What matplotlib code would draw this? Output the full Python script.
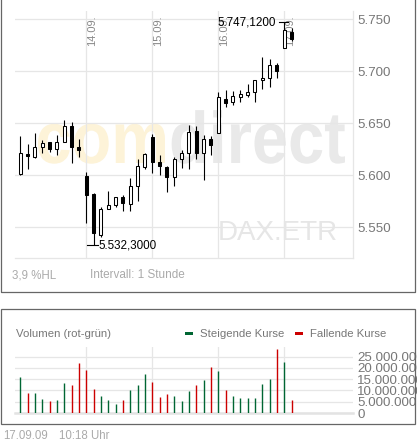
import matplotlib
matplotlib.use("Agg")
import matplotlib.pyplot as plt
from matplotlib.patches import Rectangle, PathPatch
from matplotlib.lines import Line2D
from matplotlib.textpath import TextPath, text_to_path
from matplotlib.font_manager import FontProperties
from matplotlib.transforms import Affine2D
from matplotlib.ticker import FuncFormatter, FixedLocator

plt.rcParams['font.family'] = ['Liberation Sans', 'DejaVu Sans']

# hourly candles 11.09. - 17.09.
opens = [5600.7, 5620.2, 5617.6, 5626.6, 5631.5, 5624.7, 5632.0, 5647.4, 5626.6,
         5599.0, 5581.5, 5542.3, 5567.0, 5571.2, 5579.2, 5572.1, 5589.4, 5608.0,
         5636.3, 5612.2, 5608.0, 5598.4, 5615.1, 5620.9, 5642.3, 5620.9, 5634.6,
         5640.1, 5673.1, 5669.9, 5675.3, 5676.9, 5679.5, 5691.0, 5693.0, 5705.8,
         5722.4, 5737.8]
highs = [5637.5, 5629.8, 5640.1, 5633.7, 5631.7, 5638.5, 5652.9, 5651.0, 5634.3,
         5602.9, 5582.4, 5569.5, 5584.6, 5579.0, 5581.0, 5596.8, 5615.4, 5621.4,
         5639.4, 5619.2, 5608.5, 5617.6, 5624.0, 5648.1, 5647.1, 5638.5, 5637.5,
         5680.0, 5681.7, 5681.1, 5681.7, 5687.2, 5691.5, 5713.2, 5711.3, 5707.4,
         5747.12, 5741.0]
lows = [5600.0, 5605.5, 5616.0, 5621.4, 5622.4, 5618.9, 5632.0, 5611.8, 5617.0,
        5554.0, 5532.3, 5540.7, 5567.0, 5569.0, 5565.7, 5565.7, 5575.3, 5606.0,
        5602.2, 5599.7, 5584.0, 5589.4, 5606.4, 5605.5, 5615.1, 5595.2, 5619.2,
        5640.1, 5665.4, 5667.3, 5670.5, 5675.3, 5670.5, 5682.4, 5684.9, 5693.0,
        5722.0, 5728.8]
closes = [5620.9, 5618.3, 5626.6, 5630.5, 5624.7, 5632.0, 5647.4, 5626.6, 5623.8,
          5581.0, 5544.0, 5567.3, 5571.2, 5578.6, 5573.4, 5589.4, 5608.7, 5620.2,
          5612.8, 5608.7, 5598.4, 5615.4, 5620.9, 5641.6, 5620.9, 5634.3, 5628.9,
          5675.0, 5669.2, 5676.0, 5677.9, 5679.5, 5691.3, 5693.6, 5705.8, 5700.3,
          5739.4, 5730.5]
volumes_mio = [16.1, 8.9, 8.9, 6.2, 5.3, 5.8, 13.5, 12.6, 22.1, 18.9, 10.8, 7.6, 5.8,
               3.9, 5.8, 10.3, 12.6, 17.1, 13.9, 7.1, 8.5, 7.6, 5.3, 9.8, 12.6, 14.8,
               20.3, 18.5, 10.3, 7.6, 6.7, 6.7, 6.7, 13.0, 15.3, 28.5, 22.6, 5.8]
day_labels = ["14.09.", "15.09.", "16.09.", "17.09."]
day_starts = [9, 18, 27, 36]
price_ticks = [5550, 5600, 5650, 5700, 5750]
vol_ticks = [0, 5e6, 10e6, 15e6, 20e6, 25e6]

GREEN = '#006633'
RED = '#cc0000'
GRID = '#e6e6e6'

W, H = 417, 443
fig = plt.figure(figsize=(W / 100, H / 100), dpi=100)
# pixel coords, y measured from the top
pix = Affine2D().scale(1 / W, -1 / H).translate(0, 1) + fig.transFigure


def axes_at(x0, y0, x1, y1):
    return fig.add_axes([x0 / W, 1 - y1 / H, (x1 - x0) / W, (y1 - y0) / H])


def de_num(v, dec=0):
    s = f"{v:,.{dec}f}"
    return s.replace(",", "#").replace(".", ",").replace("#", ".")


# ---- frames
fig.add_artist(Line2D([0.5, 0.5, 415, 415], [0, 292.5, 292.5, 0], transform=pix,
                      color='#666666', lw=0.9))
fig.add_artist(Rectangle((0.5, 309.5), 414.5, 115, transform=pix, fill=False,
                         edgecolor='#666666', lw=0.9))

# ---- watermark comdirect (behind everything)
fp_bold = FontProperties(family='Liberation Sans', weight='bold')
size = 73
tp_com = TextPath((0, 0), "com", size=size, prop=fp_bold)
tp_dir = TextPath((0, 0), "direct", size=size, prop=fp_bold)
fp_sized = fp_bold.copy()
fp_sized.set_size(size)
w_com = text_to_path.get_text_width_height_descent("com", fp_sized, ismath=False)[0]
e_com = tp_com.get_extents()
e_dir = tp_dir.get_extents()
natural = w_com + e_dir.x1 - e_com.x0
sx = 307 / natural
x0 = 38 - e_com.x0 * sx
base = 163
fig.add_artist(PathPatch(tp_com, transform=Affine2D().scale(sx, -1).translate(x0, base) + pix,
                         facecolor='#fdf3d8', edgecolor='none', zorder=-2))
fig.add_artist(PathPatch(tp_dir, transform=Affine2D().scale(sx, -1).translate(x0 + w_com * sx, base) + pix,
                         facecolor='#e9e9e9', edgecolor='none', zorder=-2))

# ---- price panel
ax = axes_at(15, 11, 352.7, 257.7)
ax.patch.set_alpha(0)
n = len(opens)
xs = list(range(n))
ax.set_xlim(-0.72, 45.33)
ax.set_ylim(5520.5, 5757.7)
ax.text(0.6, 0.1, "DAX.ETR", transform=ax.transAxes, fontsize=20, color='#e6e6e6',
        ha='left', va='center', zorder=0)

ax.vlines(xs, lows, highs, color='black', lw=0.8, zorder=2)
bottoms = [min(o, c) for o, c in zip(opens, closes)]
heights = [max(abs(c - o), 0.8) for o, c in zip(opens, closes)]
fills = ['white' if c >= o else 'black' for o, c in zip(opens, closes)]
ax.bar(xs, heights, bottom=bottoms, width=0.42, color=fills, edgecolor='black',
       lw=0.75, zorder=3)

ax.xaxis.set_major_locator(FixedLocator(day_starts))
ax.yaxis.set_major_locator(FixedLocator(price_ticks))
ax.yaxis.set_major_formatter(FuncFormatter(lambda v, p: de_num(v)))
ax.yaxis.tick_right()
ax.tick_params(axis='x', length=0, labelbottom=False)
ax.tick_params(axis='y', length=0, pad=3.3, labelsize=9.6, labelcolor='#777777')
ax.grid(True, color=GRID, lw=0.9)
ax.set_axisbelow(True)
for s in ['top', 'left']:
    ax.spines[s].set_visible(False)
for s in ['right', 'bottom']:
    ax.spines[s].set_color(GRID)
    ax.spines[s].set_linewidth(0.9)

for i, lab in zip(day_starts, day_labels):
    ax.annotate(lab, xy=(i, 1), xycoords=('data', 'axes fraction'), xytext=(0.6, -3),
                textcoords='offset points', rotation=90, ha='left', va='top',
                fontsize=8, color='#888888', zorder=1)

# high / low markers
i_hi = highs.index(max(highs))
i_lo = lows.index(min(lows))
ax.plot([i_hi - 0.75, i_hi + 0.55], [highs[i_hi]] * 2, color='black', lw=0.8, zorder=4)
ax.text(i_hi - 1.2, highs[i_hi], de_num(highs[i_hi], 4), ha='right', va='center',
        fontsize=8.4, color='black', zorder=4)
ax.plot([i_lo - 0.85, i_lo + 0.65], [lows[i_lo]] * 2, color='black', lw=0.8, zorder=4)
ax.text(i_lo + 0.65, lows[i_lo], de_num(lows[i_lo], 4), ha='left', va='center',
        fontsize=8.4, color='black', zorder=4)

fig.text(12, 275.5, "3,9 %HL", transform=pix, fontsize=8.3, color='#aaaaaa', va='center')
fig.text(90, 275.5, "Intervall: 1 Stunde", transform=pix, fontsize=8.5, color='#aaaaaa', va='center')

# ---- volume panel
ax2 = axes_at(15, 347, 352.7, 413)
ax2.patch.set_alpha(0)
vols = [v * 1e6 for v in volumes_mio]
vcols = [GREEN if c >= o else RED for o, c in zip(opens, closes)]
ax2.vlines(xs, 0, vols, colors=vcols, lw=1.0, zorder=3)
ax2.set_xlim(-0.72, 45.33)
ax2.set_ylim(0, 29.3e6)
ax2.xaxis.set_major_locator(FixedLocator(day_starts))
ax2.yaxis.set_major_locator(FixedLocator(vol_ticks))
ax2.yaxis.set_major_formatter(FuncFormatter(lambda v, p: de_num(v)))
ax2.yaxis.tick_right()
ax2.tick_params(axis='x', length=0, labelbottom=False)
ax2.tick_params(axis='y', length=0, pad=3.3, labelsize=9.6, labelcolor='#777777')
ax2.grid(True, color=GRID, lw=0.9)
ax2.set_axisbelow(True)
for s in ['top', 'left', 'right']:
    ax2.spines[s].set_visible(False)
ax2.spines['bottom'].set_color('#e3e3e3')
ax2.spines['bottom'].set_linewidth(1.8)

fig.text(16, 333.7, "Volumen (rot-grün)", transform=pix, fontsize=8.2, color='#777777', va='center')
fig.add_artist(Rectangle((185, 332.5), 8, 3, transform=pix, color=GREEN, lw=0))
fig.text(200, 333.7, "Steigende Kurse", transform=pix, fontsize=8.2, color='#777777', va='center')
fig.add_artist(Rectangle((295, 332.5), 8, 3, transform=pix, color=RED, lw=0))
fig.text(310, 333.7, "Fallende Kurse", transform=pix, fontsize=8.2, color='#777777', va='center')

fig.text(2.7, 436, "17.09.09", transform=pix, fontsize=8.3, color='#aaaaaa', va='center')
fig.text(59.3, 436, "10:18 Uhr", transform=pix, fontsize=8.3, color='#aaaaaa', va='center')

fig.savefig("out.png", dpi=100)
